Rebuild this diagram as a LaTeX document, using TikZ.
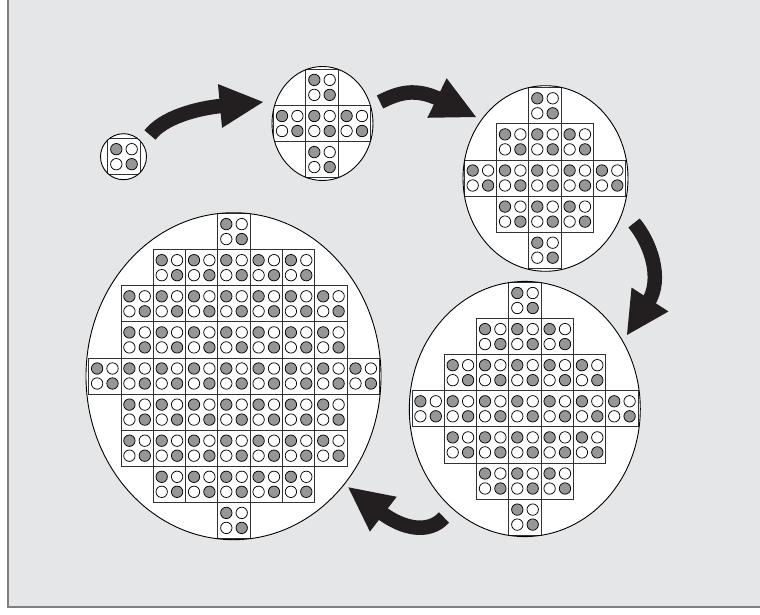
\documentclass[tikz,border=0pt]{standalone}
\usetikzlibrary{shapes.geometric,calc}
\definecolor{bggray}{RGB}{229,230,231}
\definecolor{framegray}{RGB}{128,128,128}
\definecolor{dotgray}{RGB}{150,150,150}
\definecolor{arrowblack}{RGB}{35,31,32}
\definecolor{celledge}{RGB}{50,50,50}
\tikzset{
  cellbox/.style={draw=celledge, line width=0.9pt, fill=white},
  dotw/.style={draw=black, line width=0.75pt, fill=white},
  dotg/.style={draw=black, line width=0.75pt, fill=dotgray},
  ring/.style={ellipse, draw=black, line width=0.9pt, inner sep=0pt, outer sep=0pt},
  shaft/.style={draw=arrowblack, line width=14.5pt},
  headfill/.style={fill=arrowblack},
  cell/.pic={
    \path[cellbox] (-16.15,-18.05) rectangle (16.15,18.05);
    \path[dotg] (-7.7,-7.5) circle[radius=5.7pt];
    \path[dotw] (7.7,-7.5) circle[radius=5.7pt];
    \path[dotw] (-7.7,7.5) circle[radius=5.7pt];
    \path[dotg] (7.7,7.5) circle[radius=5.7pt];
  }
}
\newcommand\cellgrid[4]{%
  \foreach \k [count=\r from 0] in {#4}{
    \pgfmathsetmacro\yy{#2+(\r-(#3-1)/2)*36.1}
    \foreach \j in {1,...,\k}{
      \pgfmathsetmacro\xx{#1+(\j-(\k+1)/2)*32.3}
      \pic at (\xx,\yy) {cell};
    }
  }
}
\begin{document}
\begin{tikzpicture}[x=1pt,y=-1pt]
\useasboundingbox (0,0) rectangle (760,615);
% panel
\fill[bggray] (8,0) rectangle (760,607);
\draw[framegray, line width=1.5pt] (8,0) -- (8,607) -- (760,607);

% circle 1
\fill[white] (123.5,156.7) ellipse[x radius=23pt, y radius=23pt];
\begin{scope}
  \clip (123.5,156.7) ellipse[x radius=23pt, y radius=23pt];
  \cellgrid{124}{156.7}{1}{1}
\end{scope}
\node[ring, minimum width=46pt, minimum height=46pt] (c1) at (123.5,156.7) {};

% circle 2
\fill[white] (322.5,123.5) ellipse[x radius=50.5pt, y radius=57pt];
\begin{scope}
  \clip (322.5,123.5) ellipse[x radius=50.5pt, y radius=57pt];
  \cellgrid{322}{123.5}{3}{1,3,1}
\end{scope}
\node[ring, minimum width=101pt, minimum height=114pt] (c2) at (322.5,123.5) {};

% circle 3
\fill[white] (545.5,178.5) ellipse[x radius=82.5pt, y radius=92.8pt];
\begin{scope}
  \clip (545.5,178.5) ellipse[x radius=82.5pt, y radius=92.8pt];
  \cellgrid{545}{178}{5}{1,3,5,3,1}
\end{scope}
\node[ring, minimum width=165pt, minimum height=185.6pt] (c3) at (545.5,178.5) {};

% circle 4
\fill[white] (524.8,409) ellipse[x radius=115.5pt, y radius=127.6pt];
\begin{scope}
  \clip (524.8,409) ellipse[x radius=115.5pt, y radius=127.6pt];
  \cellgrid{525}{408.8}{7}{1,3,5,7,5,3,1}
\end{scope}
\node[ring, minimum width=231pt, minimum height=255.2pt] (c4) at (524.8,409) {};

% circle 5
\fill[white] (233.5,376.2) ellipse[x radius=147.5pt, y radius=163.5pt];
\begin{scope}
  \clip (233.5,376.2) ellipse[x radius=147.5pt, y radius=163.5pt];
  \cellgrid{234}{376}{9}{1,5,7,7,9,7,7,5,1}
\end{scope}
\node[ring, minimum width=295pt, minimum height=327pt] (c5) at (233.5,376.2) {};

% arrow coordinates
\coordinate (t1) at (150,135);   \coordinate (a1) at (163,118);
\coordinate (b1) at (220,106);   \coordinate (h1) at (263,102);
\coordinate (t2) at (380,102);   \coordinate (a2) at (398,93);
\coordinate (b2) at (437,98);    \coordinate (h2) at (476,117);
\coordinate (t3) at (634,223);   \coordinate (a3) at (650,242);
\coordinate (b3) at (650,299.5); \coordinate (h3) at (627,335);
\coordinate (t4) at (444,517.5); \coordinate (a4) at (429,534);
\coordinate (b4) at (383.3,514.2); \coordinate (h4) at (348.3,487.3);

\foreach \i in {1,2,3,4}{
  \draw[shaft] (t\i) .. controls (a\i) and ($(b\i)!-25pt!(h\i)$) .. ($(b\i)!4pt!(h\i)$);
  \fill[headfill] ($(b\i)!22pt!90:(h\i)$) -- (h\i) -- ($(b\i)!22pt!-90:(h\i)$) -- cycle;
}
\end{tikzpicture}
\end{document}
